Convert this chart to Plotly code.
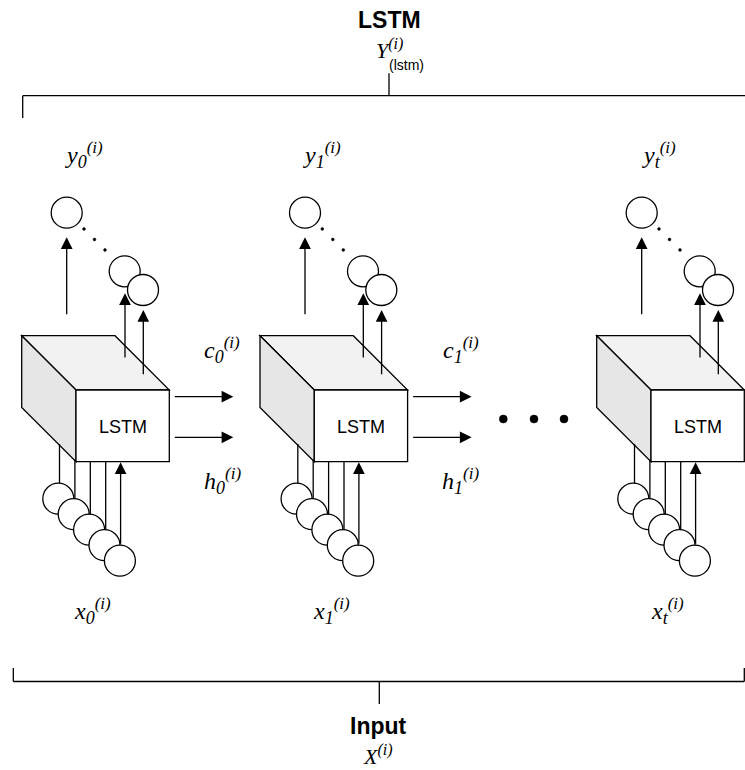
import plotly.graph_objects as go

W, H = 745, 770

# ---- diagram data ----
block_x = [21.7, 260.0, 596.7]          # back-top-left x of each LSTM cell
block_y = 335.7                          # back-top y of cells
y_labels = ["y", "y", "y"]
y_subs = ["0", "1", "t"]
x_labels = ["x", "x", "x"]
x_subs = ["0", "1", "t"]
c_subs = ["0", "1"]
h_subs = ["0", "1"]
cell_text = "LSTM"
n_inputs = 5
ellipsis_x = [503.3, 534.0, 564.0]
ellipsis_y = 419.0
title_top = "LSTM"
title_bottom = "Input"

LC = "black"
LW = 1.3
R = 15.5
SERIF = "Liberation Serif, Times New Roman, serif"
SANS = "Liberation Sans, Arial, Helvetica, sans-serif"

shapes = []
annotations = []


def line(x0, y0, x1, y1, w=LW):
    shapes.append(dict(type="line", x0=x0, y0=y0, x1=x1, y1=y1,
                       line=dict(color=LC, width=w), layer="above"))


def poly(pts, fill):
    d = "M " + " L ".join(f"{x},{y}" for x, y in pts) + " Z"
    shapes.append(dict(type="path", path=d, fillcolor=fill,
                       line=dict(color=LC, width=LW), layer="above"))


def circle(cx, cy, r=R, fill="white", lw=LW):
    shapes.append(dict(type="circle", x0=cx - r, y0=cy - r, x1=cx + r, y1=cy + r,
                       fillcolor=fill, line=dict(color=LC, width=lw), layer="above"))


def arrow(x0, y0, x1, y1):
    annotations.append(dict(x=x1, y=y1, ax=x0, ay=y0, xref="x", yref="y",
                            axref="x", ayref="y", text="", showarrow=True,
                            arrowhead=2, arrowsize=1.8, arrowwidth=LW,
                            arrowcolor=LC, standoff=0, startstandoff=0))


def text(x, y, s, size=18, family=SERIF, color="black"):
    annotations.append(dict(x=x, y=y, xref="x", yref="y", text=s, showarrow=False,
                            font=dict(family=family, size=size, color=color),
                            xanchor="center", yanchor="middle"))


def math_label(base, sub):
    return (f"<i>{base}<sub><span style='font-size:18px'>{sub}</span></sub>"
            f"<sup><span style='font-size:17px'>(i)</span></sup></i>")


for i, bx in enumerate(block_x):
    by = block_y
    dx, dy = 54.3, 54.3
    wf, hf = 93.3, 71.7
    btl = (bx, by)
    btr = (bx + wf, by)
    ftl = (bx + dx, by + dy)
    ftr = (bx + dx + wf, by + dy)
    fbl = (bx + dx, by + dy + hf)
    fbr = (bx + dx + wf, by + dy + hf)
    bbl = (bx, by + hf)

    # cube
    poly([btl, btr, ftr, ftl], "#f2f2f2")
    poly([btl, ftl, fbl, bbl], "#e6e6e6")
    poly([ftl, ftr, fbr, fbl], "white")
    text(ftl[0] + wf / 2, ftl[1] + hf / 2 + 1, cell_text, size=18, family=SANS)

    # output circles & arrows
    o1 = (bx + 45.0, by - 123.0)
    o2 = (bx + 103.0, by - 64.4)
    o3 = (bx + 121.3, by - 45.7)
    arrow(o1[0], by - 20.0, o1[0], o1[1] + R + 9)
    arrow(o2[0] + 0.3, by + 23.3, o2[0] + 0.3, o2[1] + R + 6.5)
    arrow(o3[0] + 0.3, by + 40.0, o3[0] + 0.3, o3[1] + R + 4.5)
    circle(*o1)
    for k in range(3):
        circle(bx + 62.3 + 10.5 * k, by - 106.7 + 10.5 * k, r=1.4, fill="black", lw=0.5)
    circle(*o2)
    circle(*o3)

    # input circles, lines and arrow
    centers = [(bx + 36.6 + 15.4 * k, by + 163.0 + 15.5 * k) for k in range(n_inputs)]
    for k, (cx, cy) in enumerate(centers):
        if cx < ftl[0]:
            top = bbl[1] + (cx - bx) * (fbl[1] - bbl[1]) / (fbl[0] - bbl[0])
        else:
            top = fbl[1]
        if k < n_inputs - 1:
            line(cx + 1.2, top, cx + 1.2, cy - R + 0.5)
        else:
            arrow(cx + 0.7, cy - R, cx + 0.7, fbl[1] + 0.5)
    for cx, cy in centers:
        circle(cx, cy)

    # labels
    text(bx + 62, 155, math_label(y_labels[i], y_subs[i]), size=24)
    text(bx + 71, 611, math_label(x_labels[i], x_subs[i]), size=24)

    if i < len(c_subs):
        arrow(fbr[0] + 4, by + 61.0, fbr[0] + 64, by + 61.0)
        arrow(fbr[0] + 4, by + 101.6, fbr[0] + 64, by + 101.6)
        text(fbr[0] + 53, 350, math_label("c", c_subs[i]), size=24)
        text(fbr[0] + 53, 481, math_label("h", h_subs[i]), size=24)

# ellipsis
for ex in ellipsis_x:
    circle(ex, ellipsis_y, r=4, fill="black", lw=0.5)

# top bracket
line(22.7, 95.7, 745, 95.7)
line(22.7, 95.7, 22.7, 118)
line(389, 73.3, 389, 95.7)
text(389, 20, f"<b>{title_top}</b>", size=23, family=SANS)
text(389, 49, "<i>Y<sup><span style='font-size:16px'>(i)</span></sup></i>", size=22)
text(406, 65, "(lstm)", size=14, family=SANS)

# bottom bracket
line(13.3, 681.5, 744.3, 681.5)
line(13.3, 668, 13.3, 681.5)
line(744.3, 668, 744.3, 681.5)
line(379.3, 681.5, 379.3, 704)
text(378, 726, f"<b>{title_bottom}</b>", size=23, family=SANS)
text(378, 755, "<i>X<sup><span style='font-size:16px'>(i)</span></sup></i>", size=22)

fig = go.Figure()
fig.add_trace(go.Scatter(x=[0, W], y=[0, H], mode="markers",
                         marker=dict(opacity=0), hoverinfo="skip", showlegend=False))
fig.update_layout(
    width=W, height=H, margin=dict(l=0, r=0, t=0, b=0),
    paper_bgcolor="white", plot_bgcolor="white",
    xaxis=dict(range=[0, W], visible=False, fixedrange=True),
    yaxis=dict(range=[H, 0], visible=False, fixedrange=True),
    shapes=shapes, annotations=annotations, showlegend=False,
)
fig.write_html("out.html", config={"displayModeBar": False, "staticPlot": True},
               post_script="document.body.style.margin='0px';document.body.style.overflow='hidden';")
